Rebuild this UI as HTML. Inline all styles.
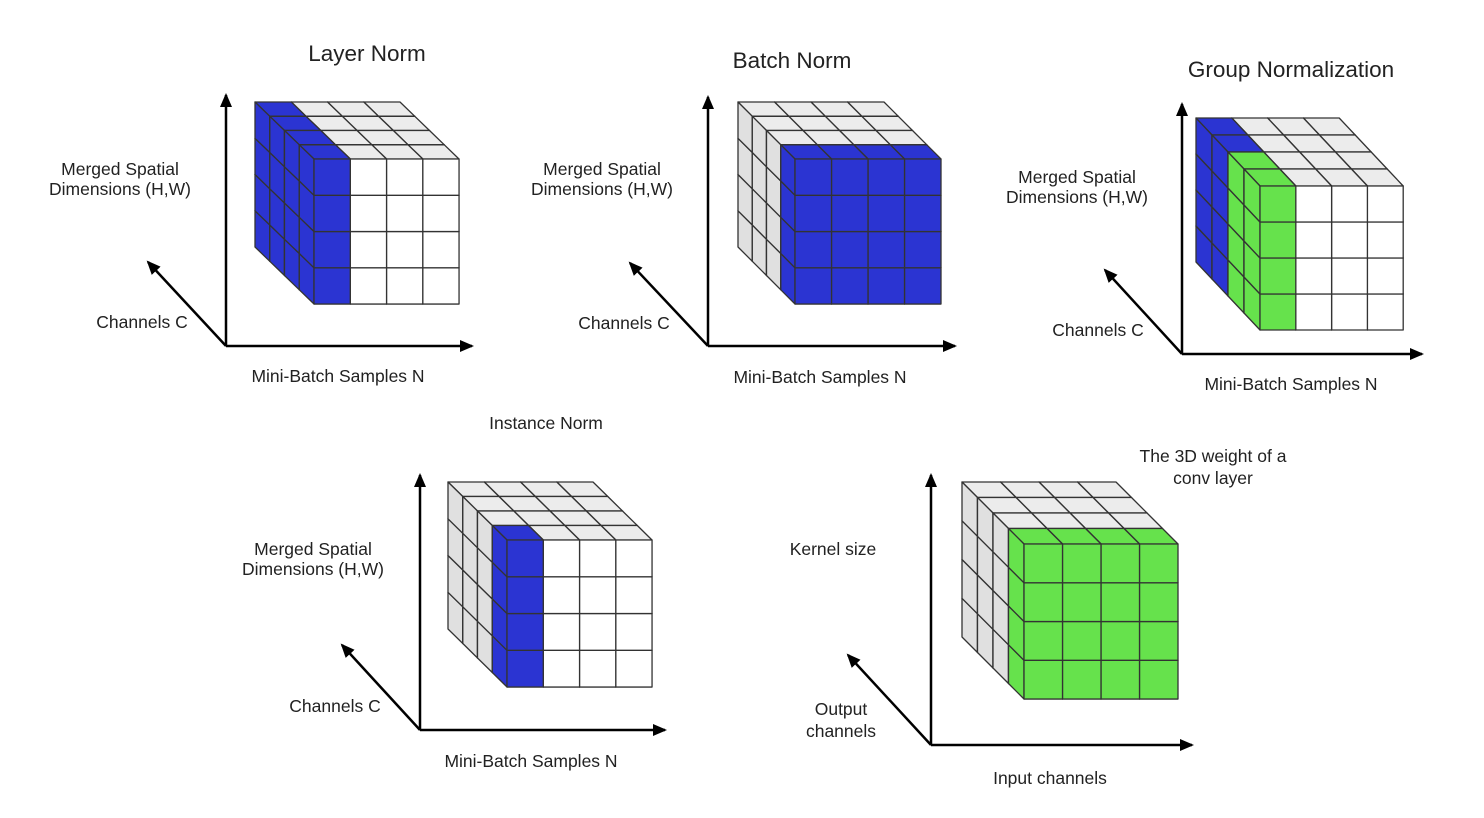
<!DOCTYPE html>
<html><head><meta charset="utf-8"><style>
html,body{margin:0;padding:0;background:#fff;}
svg{display:block;}
text{font-family:"Liberation Sans",sans-serif;fill:#222;}
</style></head><body>
<svg id="s" width="1484" height="818" viewBox="0 0 1484 818" xmlns="http://www.w3.org/2000/svg">
<defs><marker id="ah" markerWidth="14" markerHeight="12" refX="12" refY="6" orient="auto" markerUnits="userSpaceOnUse"><path d="M0,0 L14,6 L0,12 Z" fill="#000"/></marker></defs>
<g id="cubes"></g>
<g stroke="#000" stroke-width="2.5" fill="none" marker-end="url(#ah)">
<line x1="226" y1="346" x2="226" y2="95"/><line x1="226" y1="346" x2="472" y2="346"/><line x1="226" y1="346" x2="148" y2="262"/>
<line x1="708" y1="346" x2="708" y2="97"/><line x1="708" y1="346" x2="955" y2="346"/><line x1="708" y1="346" x2="630" y2="263"/>
<line x1="1182" y1="354" x2="1182" y2="104"/><line x1="1182" y1="354" x2="1422" y2="354"/><line x1="1182" y1="354" x2="1105" y2="270"/>
<line x1="420" y1="730" x2="420" y2="475"/><line x1="420" y1="730" x2="665" y2="730"/><line x1="420" y1="730" x2="342" y2="645"/>
<line x1="931" y1="745" x2="931" y2="475"/><line x1="931" y1="745" x2="1192" y2="745"/><line x1="931" y1="745" x2="848" y2="655"/>
</g>
<g font-size="17.5">
<text x="367" y="61" font-size="22.5" text-anchor="middle">Layer Norm</text>
<text x="792" y="68" font-size="22.5" text-anchor="middle">Batch Norm</text>
<text x="1291" y="77" font-size="22.5" text-anchor="middle">Group Normalization</text>
<text x="546" y="429" text-anchor="middle">Instance Norm</text>
<text x="120" y="175" text-anchor="middle">Merged Spatial</text><text x="120" y="195" text-anchor="middle">Dimensions (H,W)</text>
<text x="602" y="175" text-anchor="middle">Merged Spatial</text><text x="602" y="195" text-anchor="middle">Dimensions (H,W)</text>
<text x="1077" y="183" text-anchor="middle">Merged Spatial</text><text x="1077" y="203" text-anchor="middle">Dimensions (H,W)</text>
<text x="313" y="555" text-anchor="middle">Merged Spatial</text><text x="313" y="575" text-anchor="middle">Dimensions (H,W)</text>
<text x="142" y="328" text-anchor="middle">Channels C</text>
<text x="624" y="329" text-anchor="middle">Channels C</text>
<text x="1098" y="336" text-anchor="middle">Channels C</text>
<text x="335" y="712" text-anchor="middle">Channels C</text>
<text x="338" y="382" text-anchor="middle">Mini-Batch Samples N</text>
<text x="820" y="383" text-anchor="middle">Mini-Batch Samples N</text>
<text x="1291" y="390" text-anchor="middle">Mini-Batch Samples N</text>
<text x="531" y="767" text-anchor="middle">Mini-Batch Samples N</text>
<text x="1213" y="462" text-anchor="middle">The 3D weight of a</text><text x="1213" y="484" text-anchor="middle">conv layer</text>
<text x="833" y="555" text-anchor="middle">Kernel size</text>
<text x="841" y="715" text-anchor="middle">Output</text><text x="841" y="737" text-anchor="middle">channels</text>
<text x="1050" y="784" text-anchor="middle">Input channels</text>
</g>
</svg>
<script>
var B='#2b34d2',G='#66e24c';
function cube(ox,oy,sx,sy,dx,dy,colf){
 var out='';
 for(var d=3;d>=0;d--)for(var r=3;r>=0;r--)for(var c=3;c>=0;c--){
  var x=ox+c*sx+d*dx,y=oy+r*sy+d*dy,col=colf(c,r,d);
  var fr=col||'#fff',tp=col||'#ececec',lf=col||'#e0e0e0';
  var p=function(a){return a.map(function(q){return q[0].toFixed(1)+','+q[1].toFixed(1)}).join(' ')};
  out+='<polygon points="'+p([[x,y],[x+sx,y],[x+sx+dx,y+dy],[x+dx,y+dy]])+'" fill="'+tp+'"/>';
  out+='<polygon points="'+p([[x,y],[x+dx,y+dy],[x+dx,y+sy+dy],[x,y+sy]])+'" fill="'+lf+'"/>';
  out+='<rect x="'+x.toFixed(1)+'" y="'+y.toFixed(1)+'" width="'+sx+'" height="'+sy+'" fill="'+fr+'"/>';
 }
 return '<g stroke="#333" stroke-width="1.3" stroke-linejoin="round">'+out+'</g>';
}
var h='';
h+=cube(314,159,36.25,36.25,-14.75,-14.25,function(c,r,d){return c==0?B:null});
h+=cube(795,159,36.5,36.25,-14.25,-14.25,function(c,r,d){return d==0?B:null});
h+=cube(1260,186,35.8,36,-16,-17,function(c,r,d){return c==0?(d<2?G:B):null});
h+=cube(507,540,36.25,36.75,-14.75,-14.5,function(c,r,d){return (c==0&&d==0)?B:null});
h+=cube(1024,544,38.5,38.75,-15.5,-15.5,function(c,r,d){return d==0?G:null});
document.getElementById('cubes').innerHTML=h;
</script>
</body></html>
